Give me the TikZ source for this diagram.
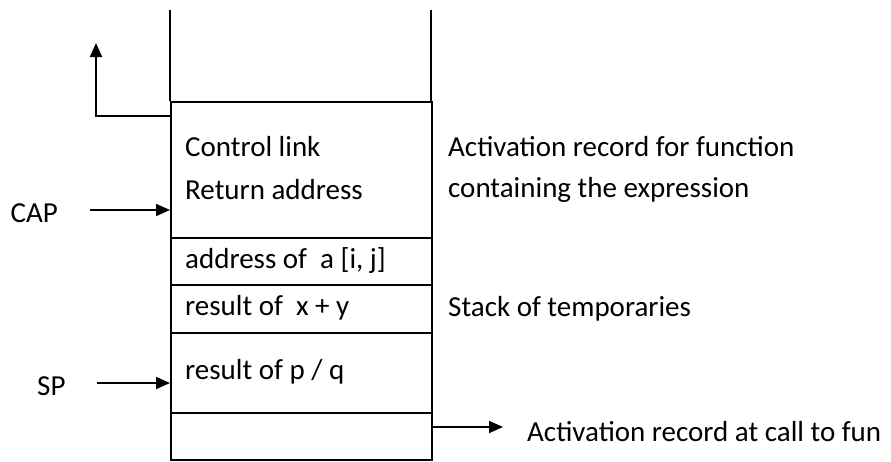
\documentclass[tikz,border=0pt]{standalone}
\usepackage{fontspec}
\setmainfont{Carlito}
\usetikzlibrary{arrows.meta}
\begin{document}
\begin{tikzpicture}[x=1pt,y=-1pt,
  cell/.style={draw,line width=2pt,minimum width=261pt,inner sep=0pt,anchor=north west},
  txt/.style={font=\fontsize{29}{32}\selectfont,inner sep=0pt,anchor=west},
  arr/.style={line width=1.8pt,-{Triangle[length=14pt,width=12pt]}}]
\useasboundingbox (0,0) rectangle (891,461);
% open top cell
\draw[line width=2pt] (170,10) -- (170,101) (431,10) -- (431,101);
\node[cell,minimum height=136pt] (ar) at (170,101) {};
\node[cell,minimum height=47pt] (c1) at (170,237) {};
\node[cell,minimum height=48pt] (c2) at (170,284) {};
\node[cell,minimum height=80pt] (c3) at (170,332) {};
\node[cell,minimum height=47pt] (c4) at (170,412) {};
% texts
\node[txt] (t1) at (185,147) {Control link};
\node[txt] (t2) at (185,190) {Return address};
\node[txt] (t3) at (185,261) {address of\ \ a [i, j]};
\node[txt] (t4) at (185,308) {result of\ \ x + y};
\node[txt] (t5) at (185,372) {result of p / q};
\node[txt] (r1) at (448,147) {Activation record for function};
\node[txt] (r2) at (448,190) {containing the expression};
\node[txt] (r3) at (448,309) {Stack of temporaries};
\node[txt,anchor=east] (cap) at (58,213) {CAP};
\node[txt] (sp) at (37,386) {SP};
\node[txt] (r4) at (527,432) {Activation record at call to fun};
% connectors
\coordinate (clk) at (170,116);
\coordinate (up) at (96,43);
\draw[arr] (clk) -| (up);
\coordinate (capS) at (90,210);
\draw[arr] (capS) -- (capS -| ar.west);
\coordinate (spS) at (97,383);
\draw[arr] (spS) -- (spS -| c3.west);
\coordinate (arS) at (431,427);
\coordinate (arE) at (503,427);
\draw[arr] (arS) -- (arE);
\end{tikzpicture}
\end{document}
